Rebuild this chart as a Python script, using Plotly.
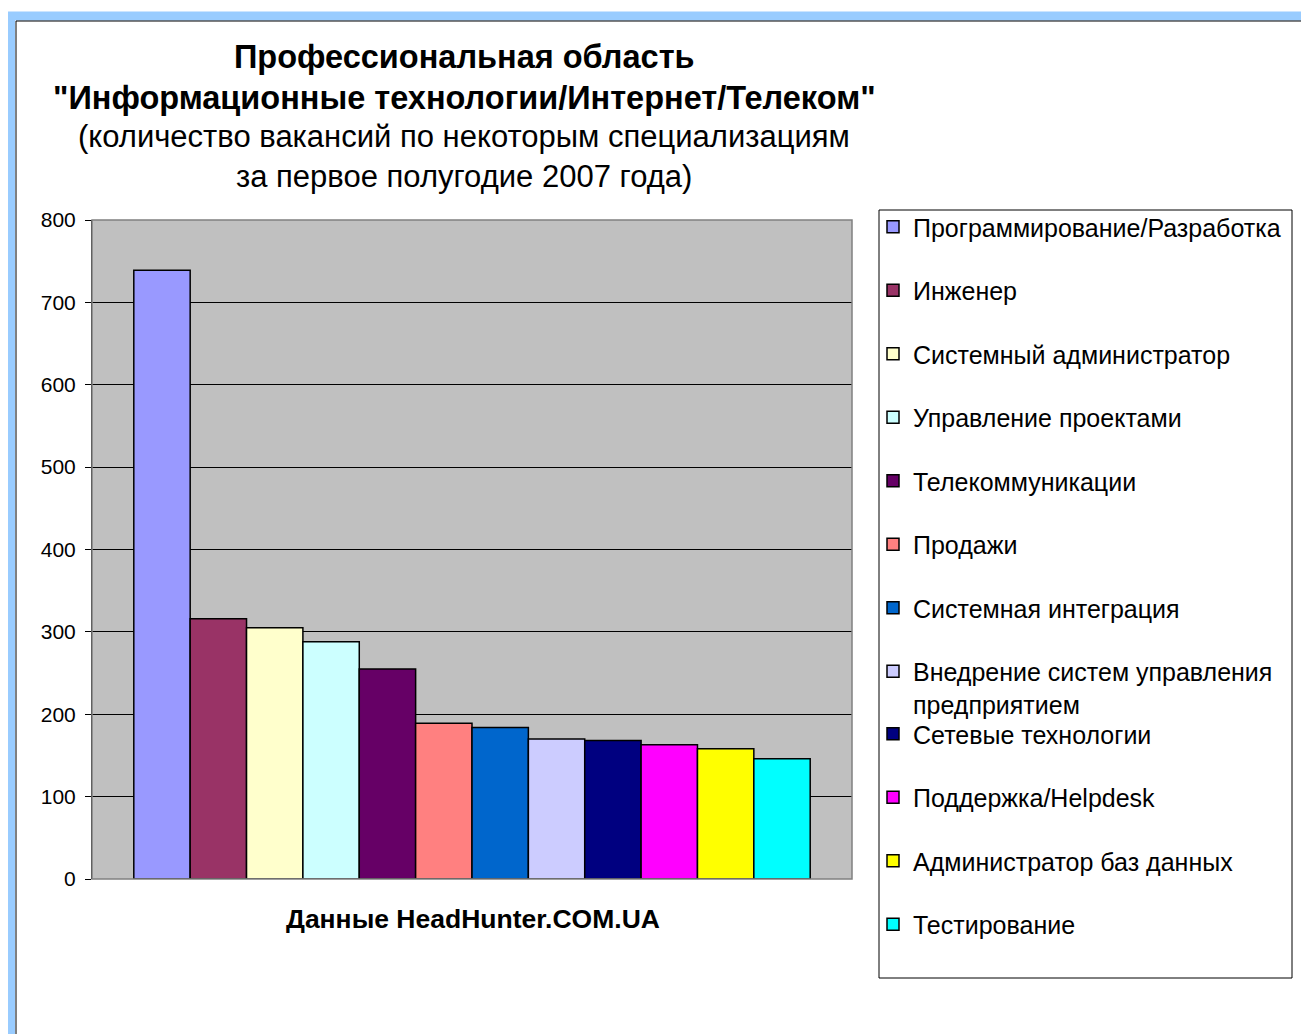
import plotly.graph_objects as go

categories = [
    "Программирование/Разработка",
    "Инженер",
    "Системный администратор",
    "Управление проектами",
    "Телекоммуникации",
    "Продажи",
    "Системная интеграция",
    "Внедрение систем управления<br>предприятием",
    "Сетевые технологии",
    "Поддержка/Helpdesk",
    "Администратор баз данных",
    "Тестирование",
]
values = [739, 316, 305, 288, 255, 189, 184, 170, 168, 163, 158, 146]
colors = ["#9999FF", "#993366", "#FFFFCC", "#CCFFFF", "#660066", "#FF8080",
          "#0066CC", "#CCCCFF", "#000080", "#FF00FF", "#FFFF00", "#00FFFF"]
y_ticks = [0, 100, 200, 300, 400, 500, 600, 700, 800]

FONT = "Arial, Liberation Sans, sans-serif"
OFF = 8  # page body margin in the browser
W, H = 1309 - OFF, 1034 - OFF
# plot area in target (screen) pixels: x 92..852, y 220..879
L = 92 - OFF
T = 220 - OFF
R = W - (852 - OFF)
B = H - (879 - OFF)
PW, PH = W - L - R, H - T - B


def px_x(p):
    return (p - OFF - L) / PW


def px_y(p):
    return (H - B - (p - OFF)) / PH


fig = go.Figure()
for i, (name, v, c) in enumerate(zip(categories, values, colors)):
    fig.add_trace(go.Bar(
        x=[""], y=[v], name=name, legendgroup=f"g{i}",
        legend="legend" if i < 8 else "legend2",
        marker=dict(color=c, line=dict(color="black", width=1.5)),
    ))

title_lines = [
    ("<b>Профессиональная область</b>", 57, 32.5),
    ("<b>\"Информационные технологии/Интернет/Телеком\"</b>", 98, 32.5),
    ("(количество вакансий по некоторым специализациям", 137, 31),
    ("за первое полугодие 2007 года)", 176, 31),
]
annotations = []
for txt, py, sz in title_lines:
    annotations.append(dict(
        text=txt, x=px_x(464), y=px_y(py), xref="paper", yref="paper",
        xanchor="center", yanchor="middle", showarrow=False,
        font=dict(family=FONT, size=sz, color="black"),
    ))
annotations.append(dict(
    text="<b>Данные HeadHunter.COM.UA</b>", x=px_x(473), y=px_y(919),
    xref="paper", yref="paper", xanchor="center", yanchor="middle",
    showarrow=False, font=dict(family=FONT, size=26.5, color="black"),
))

shapes = [
    # light blue frame band
    dict(type="rect", xref="paper", yref="paper",
         x0=px_x(10.5), x1=px_x(1450), y0=px_y(16), y1=px_y(1150),
         line=dict(color="#99CCFF", width=9), fillcolor="rgba(0,0,0,0)", layer="above"),
    # thin black inner frame line
    dict(type="rect", xref="paper", yref="paper",
         x0=px_x(16), x1=px_x(1450), y0=px_y(21), y1=px_y(1150),
         line=dict(color="black", width=1), fillcolor="rgba(0,0,0,0)", layer="above"),
    # plot area border (gray)
    dict(type="rect", xref="paper", yref="paper", x0=0, x1=1, y0=0, y1=1,
         line=dict(color="#808080", width=1.5), fillcolor="rgba(0,0,0,0)", layer="above"),
    # legend box
    dict(type="rect", xref="paper", yref="paper",
         x0=px_x(879), x1=px_x(1292), y0=px_y(210), y1=px_y(978),
         line=dict(color="black", width=1), fillcolor="white", layer="below"),
]

legend_common = dict(
    xanchor="left", yanchor="top",
    bgcolor="rgba(0,0,0,0)", borderwidth=0,
    font=dict(family=FONT, size=25, color="black"),
    tracegroupgap=28, valign="top", traceorder="grouped",
    maxheight=950,
)

fig.update_layout(
    width=W, height=H,
    margin=dict(l=L, r=R, t=T, b=B),
    paper_bgcolor="white", plot_bgcolor="#C0C0C0",
    barmode="group", bargap=0.11, bargroupgap=0,
    font=dict(family=FONT, color="black"),
    showlegend=True,
    legend=dict(x=px_x(873), y=px_y(204), **legend_common),
    legend2=dict(x=px_x(873), y=px_y(711), **legend_common),
    xaxis=dict(showticklabels=False, ticks="", showgrid=False, showline=False,
               zeroline=False),
    yaxis=dict(range=[0, 800], tickvals=y_ticks, ticks="outside", ticklen=6,
               tickcolor="black", tickwidth=1, showline=True, linecolor="black",
               linewidth=1, showgrid=True, gridcolor="black", gridwidth=1,
               zeroline=False, tickfont=dict(family=FONT, size=21, color="black"),
               ticklabelstandoff=5),
    annotations=annotations,
    shapes=shapes,
)

fig.write_html("out.html")
